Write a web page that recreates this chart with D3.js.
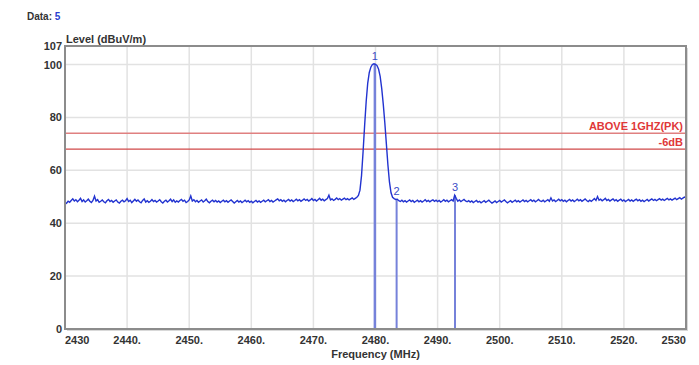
<!DOCTYPE html>
<html>
<head>
<meta charset="utf-8">
<script src="https://cdn.jsdelivr.net/npm/d3@7"></script>
<style>
body { margin: 0; background: #fff; }
svg { display: block; font-family: "Liberation Sans", Arial, sans-serif; }
</style>
</head>
<body>
<svg id="chart"></svg>
<script>
// trace start / step (MHz) and levels (dBuV/m)
var startFreq = 2430;
var stepFreq = 0.25;
var levels = [
  47.2,47.6,48.3,47.9,48.6,49.2,48.4,48.9,48.1,48.7,49.4,48.2,48.8,48.0,48.5,49.1,48.3,47.8,48.6,50.2,
  48.4,48.9,47.9,48.3,48.8,48.1,47.7,48.5,49.0,48.2,48.6,47.9,48.4,48.8,48.0,47.6,48.3,48.7,48.1,48.5,
  49.3,48.2,48.7,47.8,48.4,49.0,48.3,48.8,48.1,47.7,48.6,49.2,48.0,48.5,47.9,48.3,48.9,48.2,48.6,48.0,
  48.4,48.9,48.1,47.6,48.3,48.7,48.0,48.5,49.1,48.2,48.8,47.9,48.4,48.0,48.6,49.0,48.3,48.7,47.8,48.2,
  48.8,50.3,48.4,48.9,48.1,48.6,47.9,48.4,48.8,48.0,48.5,49.1,48.2,47.7,48.3,48.7,48.1,48.6,48.0,48.4,
  47.8,48.3,48.7,48.1,48.5,47.9,48.4,48.8,48.2,47.6,48.1,48.6,48.0,48.4,47.8,48.2,48.7,48.1,48.5,47.9,
  48.3,47.7,48.2,48.6,48.0,48.4,47.9,48.3,48.7,48.1,48.5,48.9,48.2,48.6,48.0,48.4,48.8,49.2,48.5,48.9,
  48.3,48.7,48.1,48.6,49.0,48.4,48.8,48.2,48.6,49.1,48.5,48.9,48.3,48.7,49.2,48.6,49.0,48.4,48.8,49.3,
  48.6,49.0,48.4,48.9,49.4,48.7,49.1,48.5,48.9,49.3,50.6,48.8,49.2,48.6,49.0,49.5,48.9,49.3,48.7,49.1,
  49.5,48.9,49.3,48.8,49.2,49.6,49.0,49.4,49.8,50.5,52.5,58.0,67.0,77.0,86.0,93.0,97.0,99.0,100.0,100.3,
  100.1,99.6,98.2,95.5,91.0,85.0,78.0,70.0,62.0,55.5,51.5,49.8,49.3,49.0,49.1,48.5,48.2,48.7,48.1,48.5,
  48.0,48.4,48.8,48.2,48.6,47.9,48.3,48.7,48.1,48.5,48.0,48.4,48.9,48.2,48.6,48.1,48.5,48.8,48.3,48.7,
  48.2,48.6,48.0,48.4,48.9,48.3,48.7,48.1,48.5,48.9,48.4,50.6,49.4,48.3,48.8,48.2,48.6,49.0,48.4,48.1,
  48.5,48.0,48.4,47.8,48.2,48.6,48.0,48.3,47.7,48.1,48.5,47.9,48.3,48.7,48.1,47.6,48.0,48.4,47.8,48.2,
  48.6,48.0,48.4,48.8,48.2,47.7,48.1,48.5,47.9,48.3,48.7,48.1,48.5,48.0,48.4,48.8,48.2,48.6,48.1,48.5,
  48.9,48.3,48.7,48.1,48.5,49.0,48.4,48.2,48.7,48.1,48.5,48.9,48.3,49.6,48.4,48.8,48.2,48.6,49.1,48.5,
  48.9,48.3,48.7,48.1,48.6,49.0,48.4,48.8,48.2,48.6,49.1,48.5,48.9,48.3,48.7,49.2,48.6,48.2,48.7,48.3,
  48.8,49.3,48.6,50.1,48.7,49.1,48.5,48.9,49.4,48.6,49.0,48.4,48.8,49.2,48.5,48.9,48.3,48.7,49.1,48.4,
  48.8,48.2,48.6,49.0,48.4,48.8,48.3,48.7,49.1,48.5,48.9,48.3,48.7,48.2,48.6,49.0,48.4,48.8,49.2,48.6,
  49.0,48.5,48.9,49.3,48.7,49.1,48.6,49.0,49.4,48.8,49.2,48.7,49.1,49.5,48.9,49.3,49.7,49.1,49.5,49.9,
  49.6
];

// markers
var markerNames = ["1", "2", "3"];
var markerFreqs = [2479.9, 2483.4, 2492.8];
var markerLevels = [100.3, 49.1, 50.6];

// limit lines
var limitNames = ["ABOVE 1GHZ(PK)", "-6dB"];
var limitLevels = [74, 68];

// ticks
var xTicks = [2430, 2440, 2450, 2460, 2470, 2480, 2490, 2500, 2510, 2520, 2530];
var yTicks = [0, 20, 40, 60, 80, 100, 107];

var width = 699, height = 365;
var plotL = 65, plotR = 686, plotT = 46, plotB = 329;

var svg = d3.select("#chart")
    .attr("width", width)
    .attr("height", height);

var xScale = d3.scaleLinear().domain([2430, 2530]).range([plotL, plotR]);
var yScale = d3.scaleLinear().domain([0, 107]).range([plotB, plotT]);

var trace = levels.map(function(v, i) {
    return {f: startFreq + i * stepFreq, v: v};
});

// header
var hdr = svg.append("text")
    .attr("x", 27).attr("y", 20)
    .attr("font-size", 10).attr("font-weight", "bold").attr("fill", "#333");
hdr.append("tspan").text("Data: ");
hdr.append("tspan").attr("fill", "#2a3fd0").text("5");

svg.append("text")
    .attr("x", plotL + 1).attr("y", 43)
    .attr("font-size", 11).attr("font-weight", "bold").attr("fill", "#333")
    .text("Level (dBuV/m)");

// shadow of frame
svg.append("rect")
    .attr("x", plotL + 2).attr("y", plotT + 2)
    .attr("width", plotR - plotL).attr("height", plotB - plotT)
    .attr("fill", "#d8d8d8");
svg.append("rect")
    .attr("x", plotL).attr("y", plotT)
    .attr("width", plotR - plotL).attr("height", plotB - plotT)
    .attr("fill", "#fff");

// grid
svg.selectAll(".vgrid")
    .data(xTicks.slice(1, -1))
    .enter().append("line")
    .attr("x1", function(d) { return xScale(d); })
    .attr("x2", function(d) { return xScale(d); })
    .attr("y1", plotT).attr("y2", plotB)
    .attr("stroke", "#e2e2e2").attr("stroke-width", 1.5);

svg.selectAll(".hgrid")
    .data(yTicks.filter(function(d) { return d > 0 && d < 107; }))
    .enter().append("line")
    .attr("y1", function(d) { return yScale(d); })
    .attr("y2", function(d) { return yScale(d); })
    .attr("x1", plotL).attr("x2", plotR)
    .attr("stroke", "#e2e2e2").attr("stroke-width", 1.5);

// limit lines
limitLevels.forEach(function(l, i) {
    svg.append("line")
        .attr("x1", plotL).attr("x2", plotR)
        .attr("y1", yScale(l)).attr("y2", yScale(l))
        .attr("stroke", i == 0 ? "#e08080" : "#d04848")
        .attr("stroke-width", i == 0 ? 1.5 : 1.2);
    svg.append("text")
        .attr("x", plotR - 3).attr("y", yScale(l) - 3)
        .attr("text-anchor", "end")
        .attr("font-size", 11).attr("font-weight", "bold")
        .attr("fill", "#e03838")
        .text(limitNames[i]);
});

// marker lines
markerFreqs.forEach(function(f, i) {
    svg.append("line")
        .attr("x1", xScale(f)).attr("x2", xScale(f))
        .attr("y1", yScale(markerLevels[i])).attr("y2", plotB)
        .attr("stroke", "#7682da").attr("stroke-width", i == 0 ? 2.5 : 2);
});

// trace
var line = d3.line()
    .x(function(d) { return xScale(d.f); })
    .y(function(d) { return yScale(d.v); });

svg.append("path")
    .datum(trace)
    .attr("d", line)
    .attr("fill", "none")
    .attr("stroke", "#2233d0")
    .attr("stroke-width", 1.4);

// marker labels
markerFreqs.forEach(function(f, i) {
    svg.append("text")
        .attr("x", xScale(f)).attr("y", yScale(markerLevels[i]) - 4)
        .attr("text-anchor", "middle")
        .attr("font-size", 11)
        .attr("fill", "#3a4cc8")
        .text(markerNames[i]);
});

// frame
svg.append("rect")
    .attr("x", plotL).attr("y", plotT)
    .attr("width", plotR - plotL).attr("height", plotB - plotT)
    .attr("fill", "none")
    .attr("stroke", "#8c8c8c").attr("stroke-width", 2);

// y tick labels
svg.selectAll(".ylab")
    .data(yTicks)
    .enter().append("text")
    .attr("x", plotL - 3)
    .attr("y", function(d) { return yScale(d) + 4; })
    .attr("text-anchor", "end")
    .attr("font-size", 11).attr("font-weight", "bold").attr("fill", "#333")
    .text(function(d) { return d; });

// x tick labels
svg.selectAll(".xlab")
    .data(xTicks)
    .enter().append("text")
    .attr("x", function(d) { return xScale(d); })
    .attr("y", 344)
    .attr("text-anchor", function(d, i) {
        if (i == 0) return "start";
        if (i == xTicks.length - 1) return "end";
        return "middle";
    })
    .attr("font-size", 11).attr("font-weight", "bold").attr("fill", "#333")
    .text(function(d, i) {
        return (i == 0 || i == xTicks.length - 1) ? d : d + ".";
    });

svg.append("text")
    .attr("x", (plotL + plotR) / 2).attr("y", 358)
    .attr("text-anchor", "middle")
    .attr("font-size", 11).attr("font-weight", "bold").attr("fill", "#333")
    .text("Frequency (MHz)");
</script>
</body>
</html>
